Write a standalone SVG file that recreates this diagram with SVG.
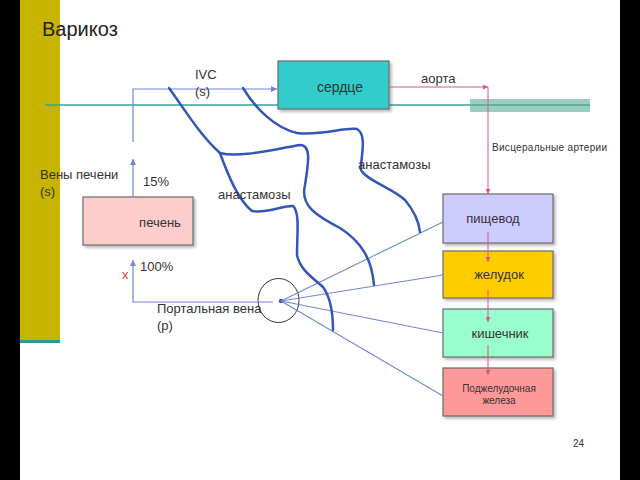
<svg xmlns="http://www.w3.org/2000/svg" width="640" height="480" viewBox="0 0 640 480">
<defs>
<marker id="ab" viewBox="0 0 6 6" refX="6" refY="3" markerWidth="5" markerHeight="5" orient="auto"><path d="M0,0L6,3L0,6z" fill="#6f86d6"/></marker>
<marker id="ap" viewBox="0 0 6 6" refX="6" refY="3" markerWidth="5" markerHeight="5" orient="auto"><path d="M0,0L6,3L0,6z" fill="#e0508a"/></marker>
<filter id="sh" x="-10%" y="-10%" width="130%" height="130%"><feDropShadow dx="2" dy="2" stdDeviation="1.5" flood-color="#000" flood-opacity="0.3"/></filter>
</defs>
<style>
text{font-family:"Liberation Sans",Arial,sans-serif;fill:#333}
.lbl{font-size:13px}
.box{stroke:#6b6b6b;stroke-width:1.2;filter:url(#sh)}
.bl{stroke:#6f86d6;stroke-width:1.2;fill:none}
.pk{stroke:#e0508a;stroke-width:1;fill:none}
.cv{stroke:#3356b8;stroke-width:2.5;fill:none;stroke-linecap:round}
.fan{stroke:#7088d0;stroke-width:1.1;fill:none}
.bt{font-size:13px;text-anchor:middle}
</style>
<rect width="640" height="480" fill="#fff"/>
<rect x="0" y="0" width="20" height="480" fill="#000"/>
<rect x="620" y="0" width="20" height="480" fill="#000"/>
<rect x="20" y="0" width="40" height="340" fill="#c8b400"/>
<rect x="20" y="340" width="40" height="3" fill="#2a9a8a"/>
<text x="42" y="36" style="font-size:20px;fill:#222">Варикоз</text>

<g id="teal-lines">
<line x1="45" y1="105" x2="278" y2="105" stroke="#3a9e9e" stroke-width="1.5"/>
<line x1="390" y1="105" x2="590" y2="105" stroke="#3a9e9e" stroke-width="1.5"/>
<rect x="470" y="99" width="120" height="13" fill="#5aae96" opacity="0.6"/>
</g>

<g id="heart"><rect class="box" x="278" y="61" width="111" height="48" fill="#33cccc"/><text class="bt" x="340" y="92" style="font-size:14px">сердце</text></g>
<g id="liver"><rect class="box" x="83" y="197" width="110" height="48" fill="#ffcccc"/><text class="bt" x="160" y="227">печень</text></g>
<g id="portal"><ellipse cx="278.5" cy="300.5" rx="20.5" ry="22" fill="none" stroke="#333" stroke-width="1"/><circle cx="281" cy="301" r="2.2" fill="#3356b8"/></g>
<g id="esophagus"><rect class="box" x="443" y="194" width="110" height="49" fill="#ccccff"/><text class="bt" x="493" y="223">пищевод</text></g>
<g id="stomach"><rect class="box" x="443" y="251" width="110" height="47" fill="#ffcc00"/><text class="bt" x="499" y="279">желудок</text></g>
<g id="intestine"><rect class="box" x="443" y="309" width="110" height="48" fill="#99ffcc"/><text class="bt" x="500" y="338">кишечник</text></g>
<g id="pancreas"><rect class="box" x="443" y="368" width="110" height="48" fill="#ff9999"/><text class="bt" x="499" y="392" style="font-size:10px">Поджелудочная</text><text class="bt" x="499" y="404" style="font-size:10px">железа</text></g>

<g id="connectors">
<polyline class="bl" points="133,142 133,89 277,89" marker-end="url(#ab)"/>
<line class="bl" x1="133" y1="197" x2="133" y2="159" marker-end="url(#ab)"/>
<polyline class="bl" points="273,302 133,302 133,260" marker-end="url(#ab)"/>
<polyline class="pk" points="389,87 488,87" marker-end="url(#ap)"/>
<line class="pk" x1="488" y1="87" x2="488" y2="194" marker-end="url(#ap)"/>
<line class="pk" x1="488" y1="232" x2="488" y2="262" marker-end="url(#ap)"/>
<line class="pk" x1="488" y1="290" x2="488" y2="322" marker-end="url(#ap)"/>
<line class="pk" x1="488" y1="345" x2="488" y2="375" marker-end="url(#ap)"/>
<line class="fan" x1="281" y1="301" x2="443" y2="222"/>
<line class="fan" x1="281" y1="301" x2="443" y2="275"/>
<line class="fan" x1="281" y1="301" x2="443" y2="333"/>
<line class="fan" x1="281" y1="301" x2="443" y2="396"/>
<path class="cv" d="M169,88 C185,110 200,135 220,153"/>
<path class="cv" d="M220,153 C240,158 270,150 300,145 C312,145 308,165 305,185 C300,205 315,215 340,228 C362,242 372,260 374,285"/>
<path class="cv" d="M220,153 C228,175 238,200 252,211 C265,214 285,205 293,206 C300,212 297,235 297,255 C300,270 313,278 323,287 C331,298 333,315 333,330"/>
<path class="cv" d="M243,88 C255,108 275,128 297,133 C320,136 345,127 357,129 C368,135 360,160 361,170 C366,180 392,188 405,200 C415,212 419,222 420,232"/>
</g>

<g id="labels">
<text class="lbl" x="195" y="79">IVC</text>
<text class="lbl" x="195" y="96">(s)</text>
<text class="lbl" x="421" y="83">аорта</text>
<text x="492" y="151" style="font-size:10px;letter-spacing:0.3px">Висцеральные артерии</text>
<text class="lbl" x="358" y="169">анастамозы</text>
<text class="lbl" x="218" y="199">анастамозы</text>
<text class="lbl" x="40" y="179">Вены печени</text>
<text class="lbl" x="40" y="196">(s)</text>
<text class="lbl" x="143" y="186">15%</text>
<text class="lbl" x="140" y="271">100%</text>
<text x="122" y="279" style="font-size:13px;fill:#e04040">x</text>
<text class="lbl" x="157" y="313">Портальная вена</text>
<text class="lbl" x="157" y="330">(p)</text>
<text x="573" y="447" style="font-size:10px">24</text>
</g>
</svg>
